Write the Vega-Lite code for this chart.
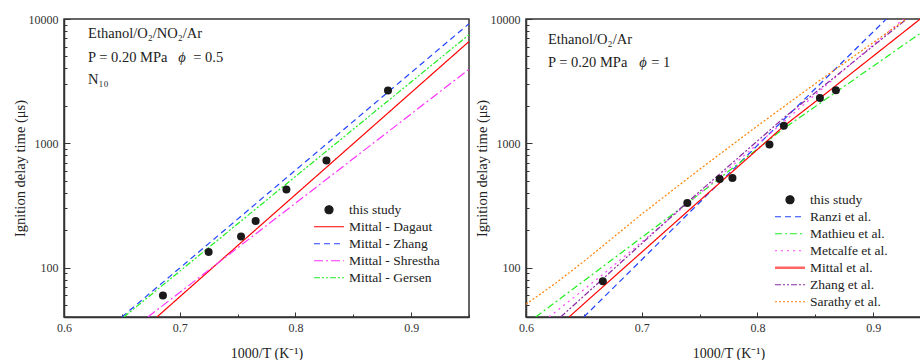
{
  "$schema": "https://vega.github.io/schema/vega-lite/v6.json",
  "background": "white",
  "padding": {"left": 11, "top": 12, "right": 0, "bottom": 0},
  "config": {
    "font": "Liberation Serif",
    "view": {"stroke": "#333", "strokeWidth": 1.5},
    "axis": {"domainColor": "#333", "domainWidth": 1.5, "tickColor": "#333", "tickWidth": 1, "labelColor": "#333", "titleColor": "#222", "labelFont": "Liberation Serif", "titleFont": "Liberation Serif", "labelFontSize": 12, "titleFontSize": 14.5, "titleFontWeight": "normal", "grid": false},
    "legend": {"labelFont": "Liberation Serif", "labelFontSize": 13.5, "labelColor": "#222", "rowPadding": 2, "labelOffset": 21.5, "symbolStrokeWidth": 1.2, "padding": 0},
    "concat": {"spacing": 2}
  },
  "resolve": {"scale": {"color": "independent", "strokeDash": "independent"}, "legend": {"color": "independent", "strokeDash": "independent"}},
  "datasets": {
    "left_lines": [
      {"series": "Mittal - Dagaut", "x": 0.6803, "y": 40},
      {"series": "Mittal - Dagaut", "x": 0.75, "y": 150},
      {"series": "Mittal - Dagaut", "x": 0.85, "y": 993},
      {"series": "Mittal - Dagaut", "x": 0.95, "y": 6590},
      {"series": "Mittal - Zhang", "x": 0.65, "y": 40},
      {"series": "Mittal - Zhang", "x": 0.8, "y": 607},
      {"series": "Mittal - Zhang", "x": 0.95, "y": 9160},
      {"series": "Mittal - Shrestha", "x": 0.6725, "y": 40},
      {"series": "Mittal - Shrestha", "x": 0.8, "y": 329},
      {"series": "Mittal - Shrestha", "x": 0.95, "y": 3940},
      {"series": "Mittal - Gersen", "x": 0.6517, "y": 40},
      {"series": "Mittal - Gersen", "x": 0.8, "y": 540},
      {"series": "Mittal - Gersen", "x": 0.95, "y": 7480}
    ],
    "left_points": [
      {"series": "this study", "x": 0.6855, "y": 59.6},
      {"series": "this study", "x": 0.725, "y": 133.6},
      {"series": "this study", "x": 0.753, "y": 178},
      {"series": "this study", "x": 0.7656, "y": 237},
      {"series": "this study", "x": 0.7922, "y": 424},
      {"series": "this study", "x": 0.8268, "y": 728},
      {"series": "this study", "x": 0.88, "y": 2654}
    ],
    "left_text": [
      {"x": 0.6208, "y": 7590, "label": "Ethanol/O₂/NO₂/Ar"},
      {"x": 0.6208, "y": 4864, "label": "P = 0.20 MPa"},
      {"x": 0.7117, "y": 4864, "label": "= 0.5"},
      {"x": 0.6208, "y": 3236, "label": "N₁₀"}
    ],
    "left_phi": [
      {"x": 0.6987, "y": 4864, "label": "ϕ"}
    ],
    "right_lines": [
      {"series": "Ranzi et al.", "x": 0.65, "y": 40},
      {"series": "Ranzi et al.", "x": 0.78, "y": 631},
      {"series": "Ranzi et al.", "x": 0.9102, "y": 9750},
      {"series": "Ranzi et al.", "x": 0.95, "y": 23000},
      {"series": "Mathieu et al.", "x": 0.6084, "y": 40},
      {"series": "Mathieu et al.", "x": 0.7394, "y": 329},
      {"series": "Mathieu et al.", "x": 0.8228, "y": 1315},
      {"series": "Mathieu et al.", "x": 0.9403, "y": 7620},
      {"series": "Mathieu et al.", "x": 0.95, "y": 8800},
      {"series": "Metcalfe et al.", "x": 0.62, "y": 40},
      {"series": "Metcalfe et al.", "x": 0.6664, "y": 88},
      {"series": "Metcalfe et al.", "x": 0.7394, "y": 325},
      {"series": "Metcalfe et al.", "x": 0.8228, "y": 1490},
      {"series": "Metcalfe et al.", "x": 0.9261, "y": 10000},
      {"series": "Metcalfe et al.", "x": 0.95, "y": 15500},
      {"series": "Mittal et al.", "x": 0.6372, "y": 40},
      {"series": "Mittal et al.", "x": 0.6664, "y": 70},
      {"series": "Mittal et al.", "x": 0.7394, "y": 282},
      {"series": "Mittal et al.", "x": 0.8228, "y": 1374},
      {"series": "Mittal et al.", "x": 0.854, "y": 2307},
      {"series": "Mittal et al.", "x": 0.9403, "y": 9930},
      {"series": "Mittal et al.", "x": 0.95, "y": 11700},
      {"series": "Zhang et al.", "x": 0.63, "y": 40},
      {"series": "Zhang et al.", "x": 0.7394, "y": 335},
      {"series": "Zhang et al.", "x": 0.8228, "y": 1600},
      {"series": "Zhang et al.", "x": 0.929, "y": 10000},
      {"series": "Zhang et al.", "x": 0.95, "y": 14000},
      {"series": "Sarathy et al.", "x": 0.6, "y": 50.7},
      {"series": "Sarathy et al.", "x": 0.625, "y": 74.1},
      {"series": "Sarathy et al.", "x": 0.65, "y": 112},
      {"series": "Sarathy et al.", "x": 0.7, "y": 269},
      {"series": "Sarathy et al.", "x": 0.75, "y": 617},
      {"series": "Sarathy et al.", "x": 0.8, "y": 1380},
      {"series": "Sarathy et al.", "x": 0.85, "y": 3020},
      {"series": "Sarathy et al.", "x": 0.9, "y": 6457},
      {"series": "Sarathy et al.", "x": 0.95, "y": 13800}
    ],
    "right_points": [
      {"series": "this study", "x": 0.6664, "y": 77.6},
      {"series": "this study", "x": 0.7394, "y": 331},
      {"series": "this study", "x": 0.7674, "y": 516},
      {"series": "this study", "x": 0.7784, "y": 525},
      {"series": "this study", "x": 0.8104, "y": 977},
      {"series": "this study", "x": 0.8228, "y": 1383},
      {"series": "this study", "x": 0.854, "y": 2317},
      {"series": "this study", "x": 0.8678, "y": 2673}
    ],
    "right_text": [
      {"x": 0.619, "y": 6776, "label": "Ethanol/O₂/Ar"},
      {"x": 0.619, "y": 4436, "label": "P = 0.20 MPa"},
      {"x": 0.7082, "y": 4436, "label": "= 1"}
    ],
    "right_phi": [
      {"x": 0.6978, "y": 4436, "label": "ϕ"}
    ]
  },
  "hconcat": [
    {
      "width": 405,
      "height": 298,
      "encoding": {
        "x": {"field": "x", "type": "quantitative", "scale": {"domain": [0.6, 0.95], "nice": false, "zero": false},
          "axis": {"title": "1000/T (K⁻¹)", "titleFontSize": 14, "values": [0.6, 0.65, 0.7, 0.75, 0.8, 0.85, 0.9, 0.95],
            "labelExpr": "(round(datum.value*100) % 10 == 0) ? format(datum.value, '.1f') : ''",
            "tickSize": {"condition": {"test": "round(datum.value*100) % 10 == 0", "value": -5}, "value": -3},
            "labelPadding": 10, "labelFlush": false, "titlePadding": 13}},
        "y": {"field": "y", "type": "quantitative", "scale": {"type": "log", "domain": [40, 10000], "nice": false},
          "axis": {"title": "Ignition delay time (μs)", "values": [40, 50, 60, 70, 80, 90, 100, 200, 300, 400, 500, 600, 700, 800, 900, 1000, 2000, 3000, 4000, 5000, 6000, 7000, 8000, 9000, 10000],
            "labelExpr": "(datum.value == 100 || datum.value == 1000 || datum.value == 10000) ? ('' + datum.value) : ''",
            "tickSize": {"condition": {"test": "datum.value == 100 || datum.value == 1000 || datum.value == 10000", "value": -6}, "value": -3},
            "labelPadding": 12, "titlePadding": 1}}
      },
      "layer": [
        {
          "data": {"name": "left_lines"},
          "mark": {"type": "line", "strokeWidth": 1.2, "clip": true},
          "encoding": {
            "color": {"field": "series", "type": "nominal",
              "scale": {"domain": ["this study", "Mittal - Dagaut", "Mittal - Zhang", "Mittal - Shrestha", "Mittal - Gersen"], "range": ["#1a1a1a", "#ff0000", "#2244ff", "#ff33ff", "#22ee22"]},
              "legend": {"orient": "none", "legendX": 250, "legendY": 184, "title": null, "symbolType": "stroke", "symbolSize": 64,
                "encode": {"symbols": {"update": {
                  "x": {"value": 15},
                  "shape": {"signal": "datum.value === 'this study' ? 'circle' : 'M-3.75,0H3.75'"},
                  "fill": {"signal": "datum.value === 'this study' ? '#1a1a1a' : 'transparent'"}}}}}},
            "strokeDash": {"field": "series", "type": "nominal",
              "scale": {"domain": ["this study", "Mittal - Dagaut", "Mittal - Zhang", "Mittal - Shrestha", "Mittal - Gersen"], "range": [[1, 0], [1, 0], [6, 4], [9, 3, 2, 3], [6, 2, 2, 2, 2, 2]]},
              "legend": {"orient": "none", "legendX": 250, "legendY": 184, "title": null, "symbolType": "stroke", "symbolSize": 64,
                "encode": {"symbols": {"update": {
                  "x": {"value": 15},
                  "shape": {"signal": "datum.value === 'this study' ? 'circle' : 'M-3.75,0H3.75'"},
                  "fill": {"signal": "datum.value === 'this study' ? '#1a1a1a' : 'transparent'"}}}}}}
          }
        },
        {
          "data": {"name": "left_points"},
          "mark": {"type": "point", "filled": true, "size": 64, "opacity": 1},
          "encoding": {
            "color": {"field": "series", "type": "nominal",
              "legend": {"orient": "none", "legendX": 250, "legendY": 184, "title": null, "symbolType": "stroke", "symbolSize": 64,
                "encode": {"symbols": {"update": {
                  "x": {"value": 15},
                  "shape": {"signal": "datum.value === 'this study' ? 'circle' : 'M-3.75,0H3.75'"},
                  "fill": {"signal": "datum.value === 'this study' ? '#1a1a1a' : 'transparent'"}}}}}}
          }
        },
        {
          "data": {"name": "left_text"},
          "mark": {"type": "text", "align": "left", "baseline": "middle", "fontSize": 14.5, "color": "#222"},
          "encoding": {"text": {"field": "label"}}
        },
        {
          "data": {"name": "left_phi"},
          "mark": {"type": "text", "align": "left", "baseline": "middle", "fontSize": 14.5, "fontStyle": "italic", "color": "#222"},
          "encoding": {"text": {"field": "label"}}
        }
      ]
    },
    {
      "width": 405,
      "height": 298,
      "encoding": {
        "x": {"field": "x", "type": "quantitative", "scale": {"domain": [0.6, 0.95], "nice": false, "zero": false},
          "axis": {"title": "1000/T (K⁻¹)", "titleFontSize": 14, "values": [0.6, 0.65, 0.7, 0.75, 0.8, 0.85, 0.9, 0.95],
            "labelExpr": "(round(datum.value*100) % 10 == 0) ? format(datum.value, '.1f') : ''",
            "tickSize": {"condition": {"test": "round(datum.value*100) % 10 == 0", "value": -5}, "value": -3},
            "labelPadding": 10, "labelFlush": false, "titlePadding": 13}},
        "y": {"field": "y", "type": "quantitative", "scale": {"type": "log", "domain": [40, 10000], "nice": false},
          "axis": {"title": "Ignition delay time (μs)", "values": [40, 50, 60, 70, 80, 90, 100, 200, 300, 400, 500, 600, 700, 800, 900, 1000, 2000, 3000, 4000, 5000, 6000, 7000, 8000, 9000, 10000],
            "labelExpr": "(datum.value == 100 || datum.value == 1000 || datum.value == 10000) ? ('' + datum.value) : ''",
            "tickSize": {"condition": {"test": "datum.value == 100 || datum.value == 1000 || datum.value == 10000", "value": -6}, "value": -3},
            "labelPadding": 12, "titlePadding": 1}}
      },
      "layer": [
        {
          "data": {"name": "right_lines"},
          "mark": {"type": "line", "strokeWidth": 1.2, "clip": true},
          "encoding": {
            "color": {"field": "series", "type": "nominal",
              "scale": {"domain": ["this study", "Ranzi et al.", "Mathieu et al.", "Metcalfe et al.", "Mittal et al.", "Zhang et al.", "Sarathy et al."], "range": ["#1a1a1a", "#2244ff", "#22ee22", "#ff44ff", "#ff0000", "#8a2aa0", "#ff8000"]},
              "legend": {"orient": "none", "legendX": 249, "legendY": 174, "title": null, "symbolType": "stroke", "symbolSize": 64,
                "encode": {"symbols": {"update": {
                  "x": {"value": 15},
                  "shape": {"signal": "datum.value === 'this study' ? 'circle' : 'M-3.75,0H3.75'"},
                  "strokeWidth": {"signal": "datum.value === 'Mittal et al.' ? 2.6 : 1.2"},
                  "opacity": {"signal": "datum.value === 'Mittal et al.' ? 0.6 : 1"},
                  "fill": {"signal": "datum.value === 'this study' ? '#1a1a1a' : 'transparent'"}}}}}},
            "strokeDash": {"field": "series", "type": "nominal",
              "scale": {"domain": ["this study", "Ranzi et al.", "Mathieu et al.", "Metcalfe et al.", "Mittal et al.", "Zhang et al.", "Sarathy et al."], "range": [[1, 0], [6, 4], [7, 3, 2, 3], [2, 4], [1, 0], [6, 2, 2, 2, 2, 2], [2, 2]]},
              "legend": {"orient": "none", "legendX": 249, "legendY": 174, "title": null, "symbolType": "stroke", "symbolSize": 64,
                "encode": {"symbols": {"update": {
                  "x": {"value": 15},
                  "shape": {"signal": "datum.value === 'this study' ? 'circle' : 'M-3.75,0H3.75'"},
                  "strokeWidth": {"signal": "datum.value === 'Mittal et al.' ? 2.6 : 1.2"},
                  "opacity": {"signal": "datum.value === 'Mittal et al.' ? 0.6 : 1"},
                  "fill": {"signal": "datum.value === 'this study' ? '#1a1a1a' : 'transparent'"}}}}}}
          }
        },
        {
          "data": {"name": "right_points"},
          "mark": {"type": "point", "filled": true, "size": 64, "opacity": 1},
          "encoding": {
            "color": {"field": "series", "type": "nominal",
              "legend": {"orient": "none", "legendX": 249, "legendY": 174, "title": null, "symbolType": "stroke", "symbolSize": 64,
                "encode": {"symbols": {"update": {
                  "x": {"value": 15},
                  "shape": {"signal": "datum.value === 'this study' ? 'circle' : 'M-3.75,0H3.75'"},
                  "strokeWidth": {"signal": "datum.value === 'Mittal et al.' ? 2.6 : 1.2"},
                  "opacity": {"signal": "datum.value === 'Mittal et al.' ? 0.6 : 1"},
                  "fill": {"signal": "datum.value === 'this study' ? '#1a1a1a' : 'transparent'"}}}}}}
          }
        },
        {
          "data": {"name": "right_text"},
          "mark": {"type": "text", "align": "left", "baseline": "middle", "fontSize": 14.5, "color": "#222"},
          "encoding": {"text": {"field": "label"}}
        },
        {
          "data": {"name": "right_phi"},
          "mark": {"type": "text", "align": "left", "baseline": "middle", "fontSize": 14.5, "fontStyle": "italic", "color": "#222"},
          "encoding": {"text": {"field": "label"}}
        }
      ]
    }
  ]
}
